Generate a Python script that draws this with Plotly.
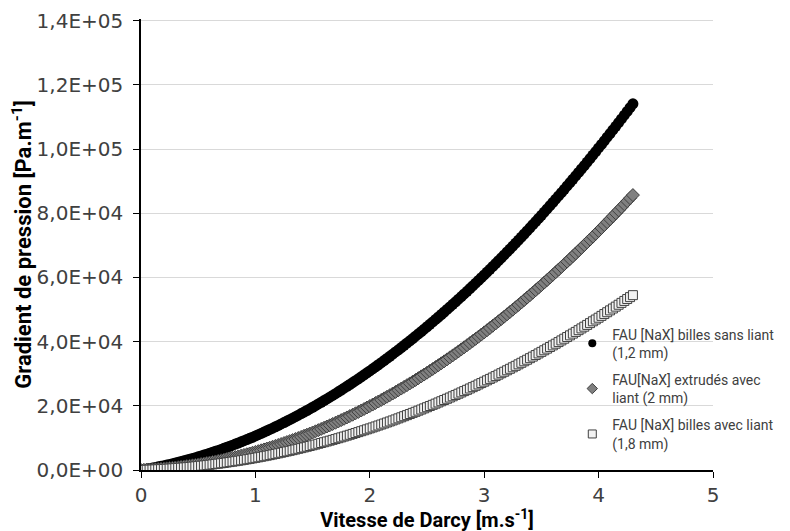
import plotly.graph_objects as go

# vitesse de Darcy (m/s)
vitesse = [0.000, 0.025, 0.050, 0.075, 0.100, 0.125, 0.150, 0.175, 0.200, 0.225,
           0.250, 0.275, 0.300, 0.325, 0.350, 0.375, 0.400, 0.425, 0.450, 0.475,
           0.500, 0.525, 0.550, 0.575, 0.600, 0.625, 0.650, 0.675, 0.700, 0.725,
           0.750, 0.775, 0.800, 0.825, 0.850, 0.875, 0.900, 0.925, 0.950, 0.975,
           1.000, 1.025, 1.050, 1.075, 1.100, 1.125, 1.150, 1.175, 1.200, 1.225,
           1.250, 1.275, 1.300, 1.325, 1.350, 1.375, 1.400, 1.425, 1.450, 1.475,
           1.500, 1.525, 1.550, 1.575, 1.600, 1.625, 1.650, 1.675, 1.700, 1.725,
           1.750, 1.775, 1.800, 1.825, 1.850, 1.875, 1.900, 1.925, 1.950, 1.975,
           2.000, 2.025, 2.050, 2.075, 2.100, 2.125, 2.150, 2.175, 2.200, 2.225,
           2.250, 2.275, 2.300, 2.325, 2.350, 2.375, 2.400, 2.425, 2.450, 2.475,
           2.500, 2.525, 2.550, 2.575, 2.600, 2.625, 2.650, 2.675, 2.700, 2.725,
           2.750, 2.775, 2.800, 2.825, 2.850, 2.875, 2.900, 2.925, 2.950, 2.975,
           3.000, 3.025, 3.050, 3.075, 3.100, 3.125, 3.150, 3.175, 3.200, 3.225,
           3.250, 3.275, 3.300, 3.325, 3.350, 3.375, 3.400, 3.425, 3.450, 3.475,
           3.500, 3.525, 3.550, 3.575, 3.600, 3.625, 3.650, 3.675, 3.700, 3.725,
           3.750, 3.775, 3.800, 3.825, 3.850, 3.875, 3.900, 3.925, 3.950, 3.975,
           4.000, 4.025, 4.050, 4.075, 4.100, 4.125, 4.150, 4.175, 4.200, 4.225,
           4.250, 4.275, 4.300]

# gradient de pression (Pa/m)
billes_sans_liant = [0, 150, 300, 460, 630, 800, 980, 1160, 1350, 1550,
                     1750, 1960, 2170, 2390, 2620, 2850, 3090, 3340, 3590, 3840,
                     4100, 4370, 4650, 4930, 5220, 5510, 5810, 6110, 6420, 6740,
                     7060, 7390, 7720, 8070, 8410, 8770, 9120, 9490, 9860, 10240,
                     10620, 11010, 11400, 11810, 12210, 12630, 13040, 13470, 13900, 14340,
                     14780, 15230, 15690, 16150, 16610, 17090, 17570, 18050, 18540, 19040,
                     19550, 20050, 20570, 21090, 21620, 22150, 22690, 23240, 23790, 24350,
                     24910, 25480, 26060, 26640, 27230, 27820, 28420, 29030, 29640, 30260,
                     30880, 31510, 32150, 32790, 33440, 34090, 34750, 35420, 36090, 36770,
                     37450, 38140, 38840, 39540, 40250, 40960, 41680, 42410, 43140, 43880,
                     44630, 45380, 46130, 46890, 47660, 48440, 49220, 50010, 50800, 51600,
                     52400, 53210, 54030, 54850, 55680, 56520, 57360, 58200, 59060, 59920,
                     60780, 61650, 62530, 63410, 64300, 65200, 66100, 67000, 67920, 68840,
                     69760, 70690, 71630, 72570, 73520, 74480, 75440, 76410, 77380, 78360,
                     79350, 80340, 81330, 82340, 83350, 84360, 85380, 86410, 87450, 88490,
                     89530, 90580, 91640, 92700, 93770, 94850, 95930, 97020, 98110, 99210,
                     100320, 101430, 102550, 103670, 104800, 105940, 107080, 108230, 109380, 110550,
                     111710, 112880, 114060]

extrudes_avec_liant = [0, 40, 80, 120, 170, 230, 290, 360, 430, 510,
                       600, 690, 780, 880, 990, 1100, 1210, 1330, 1460, 1590,
                       1730, 1880, 2020, 2180, 2340, 2500, 2670, 2850, 3030, 3220,
                       3410, 3610, 3810, 4020, 4230, 4450, 4680, 4910, 5140, 5380,
                       5630, 5880, 6140, 6400, 6670, 6940, 7220, 7510, 7800, 8090,
                       8390, 8700, 9010, 9320, 9650, 9970, 10310, 10650, 10990, 11340,
                       11690, 12050, 12420, 12790, 13160, 13550, 13930, 14330, 14720, 15130,
                       15540, 15950, 16370, 16790, 17220, 17660, 18100, 18550, 19000, 19460,
                       19920, 20390, 20860, 21340, 21830, 22320, 22810, 23310, 23820, 24330,
                       24850, 25370, 25900, 26430, 26970, 27510, 28060, 28620, 29180, 29740,
                       30310, 30890, 31470, 32060, 32650, 33250, 33850, 34460, 35080, 35700,
                       36320, 36950, 37590, 38230, 38880, 39530, 40190, 40850, 41520, 42190,
                       42870, 43550, 44240, 44940, 45640, 46350, 47060, 47780, 48500, 49230,
                       49960, 50700, 51440, 52190, 52950, 53710, 54470, 55250, 56020, 56810,
                       57590, 58390, 59180, 59990, 60800, 61610, 62430, 63260, 64090, 64920,
                       65770, 66610, 67470, 68320, 69190, 70060, 70930, 71810, 72690, 73580,
                       74480, 75380, 76290, 77200, 78120, 79040, 79970, 80900, 81840, 82790,
                       83740, 84690, 85650]

billes_avec_liant = [0, 30, 60, 100, 140, 180, 230, 270, 330, 380,
                     440, 510, 570, 640, 710, 790, 870, 950, 1040, 1130,
                     1220, 1320, 1420, 1520, 1630, 1740, 1850, 1970, 2090, 2210,
                     2340, 2470, 2600, 2740, 2880, 3020, 3170, 3320, 3470, 3630,
                     3790, 3950, 4120, 4290, 4460, 4640, 4820, 5010, 5190, 5380,
                     5580, 5780, 5980, 6180, 6390, 6600, 6810, 7030, 7250, 7470,
                     7700, 7930, 8170, 8410, 8650, 8890, 9140, 9390, 9640, 9900,
                     10160, 10430, 10700, 10970, 11240, 11520, 11800, 12090, 12370, 12670,
                     12960, 13260, 13560, 13860, 14170, 14480, 14800, 15120, 15440, 15760,
                     16090, 16420, 16760, 17100, 17440, 17790, 18130, 18490, 18840, 19200,
                     19560, 19930, 20300, 20670, 21040, 21420, 21810, 22190, 22580, 22970,
                     23370, 23770, 24170, 24580, 24980, 25400, 25810, 26230, 26650, 27080,
                     27510, 27940, 28380, 28820, 29260, 29710, 30160, 30610, 31070, 31530,
                     31990, 32450, 32920, 33400, 33870, 34350, 34840, 35320, 35810, 36310,
                     36800, 37300, 37810, 38310, 38820, 39340, 39850, 40370, 40900, 41420,
                     41950, 42490, 43020, 43560, 44110, 44650, 45200, 45760, 46320, 46880,
                     47440, 48010, 48580, 49150, 49730, 50310, 50890, 51480, 52070, 52670,
                     53260, 53860, 54470]

y_ticks = [0, 20000, 40000, 60000, 80000, 100000, 120000, 140000]
y_labels = ['0,0E+00', '2,0E+04', '4,0E+04', '6,0E+04', '8,0E+04', '1,0E+05', '1,2E+05', '1,4E+05']
x_ticks = [0, 1, 2, 3, 4, 5]

series = [
    ('FAU [NaX] billes sans liant<br>(1,2 mm)', billes_sans_liant,
     dict(symbol='circle', size=11, color='black', line=dict(width=0))),
    ('FAU[NaX] extrudés avec<br>liant (2 mm)', extrudes_avec_liant,
     dict(symbol='diamond', size=10, color='#808080', line=dict(width=1, color='#404040'))),
    ('FAU [NaX] billes avec liant<br>(1,8 mm)', billes_avec_liant,
     dict(symbol='square', size=9, color='#f2f2f2', line=dict(width=1, color='#404040'))),
]

fig = go.Figure()

for i, (nom, valeurs, marqueur) in enumerate(series):
    fig.add_trace(go.Scatter(x=vitesse, y=valeurs, mode='markers', name=nom,
                             legendgroup=str(i), showlegend=False, marker=marqueur))
    # petit symbole pour la légende
    m_leg = dict(marqueur, size=8)
    fig.add_trace(go.Scatter(x=[None], y=[None], mode='markers', name=nom,
                             legendgroup=str(i), marker=m_leg))

fig.update_layout(
    width=783, height=524,
    margin=dict(l=133, r=76, t=11, b=62),
    paper_bgcolor='white', plot_bgcolor='white',
    font=dict(family='DejaVu Sans', color='#404040'),
    legend=dict(x=0.754, y=0.336, xanchor='left', yanchor='top',
                bgcolor='rgba(0,0,0,0)', tracegroupgap=6, itemsizing='trace',
                font=dict(family='Roboto', size=14, color='#404040')),
    xaxis=dict(range=[0, 5], tickvals=x_ticks, showgrid=False, zeroline=False,
               showline=True, linecolor='black', linewidth=1.5, automargin=False,
               ticks='outside', ticklen=6, tickcolor='black',
               tickfont=dict(family='DejaVu Sans', size=20, color='#404040'),
               title=dict(text='Vitesse de Darcy [m.s<sup>-1</sup>]', standoff=2,
                          font=dict(family='Roboto', size=20, color='black', weight='bold'))),
    yaxis=dict(range=[0, 140500], tickvals=y_ticks, ticktext=y_labels,
               showgrid=True, gridcolor='#d9d9d9', gridwidth=1, zeroline=False,
               showline=True, linecolor='black', linewidth=1.5, automargin=False,
               ticks='outside', ticklen=6, tickcolor='black', ticklabelstandoff=6,
               ticklabeloverflow='allow',
               tickfont=dict(family='DejaVu Sans', size=20, color='#404040'),
               title=dict(text='Gradient de pression [Pa.m<sup>-1</sup>]', standoff=0,
                          font=dict(family='Roboto', size=22, color='black', weight='bold'))),
)

fig.write_html("out.html")
